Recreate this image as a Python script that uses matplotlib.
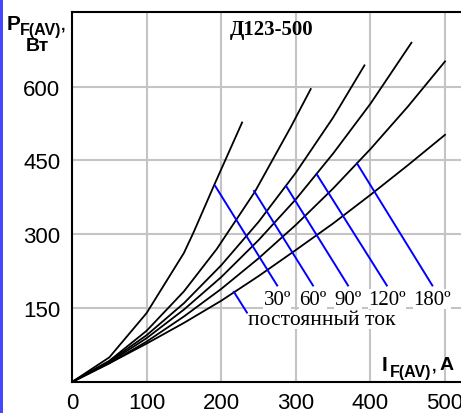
# -*- coding: utf-8 -*-

# Д123-500: average forward power loss vs average forward current

import matplotlib
matplotlib.use("Agg")
import matplotlib.pyplot as plt
from matplotlib.patches import Rectangle

# curves: current (A) and power (W)
i_30 = [0, 50, 100, 150, 163, 190, 228]
p_30 = [0, 50, 140, 262, 304, 398, 527]

i_60 = [0, 50, 100, 150, 194, 245, 293, 320]
p_60 = [0, 43, 104, 184, 270, 386, 517, 595]

i_90 = [0, 50, 100, 150, 200, 250, 300, 350, 392]
p_90 = [0, 42, 95, 160, 237, 325, 425, 537, 643]

i_120 = [0, 50, 100, 150, 200, 250, 300, 350, 400, 455]
p_120 = [0, 40, 89, 147, 213, 288, 371, 464, 565, 689]

i_180 = [0, 50, 100, 150, 200, 250, 300, 350, 400, 450, 500]
p_180 = [0, 38, 82, 133, 189, 251, 319, 393, 473, 559, 651]

i_dc = [0, 50, 100, 150, 200, 250, 300, 350, 400, 450, 500]
p_dc = [0, 38, 78, 120, 165, 215, 268, 322, 380, 440, 502]

# label leader lines (start on curve, end above the label)
lead_x = [[192, 275], [244, 323], [287, 370], [328, 422], [382, 483]]
lead_y = [[398, 196], [388, 196], [398, 196], [422, 196], [444, 196]]
lead_text = ["30º", "60º", "90º", "120º", "180º"]
dc_x = [217, 234.5]
dc_y = [183, 141]

x_ticks = [0, 100, 200, 300, 400, 500]
y_ticks = [150, 300, 450, 600]

fig = plt.figure(figsize=(4.61, 4.14), dpi=100)
ax = fig.add_axes([72 / 461, 31 / 414, 395.4 / 461, 370.3 / 414])
ax.set_xlim(0, 530)
ax.set_ylim(0, 752)

for x in x_ticks[1:]:
    ax.axvline(x, color="#c4c4c4", lw=1.5, zorder=0)
for y in y_ticks:
    ax.axhline(y, color="#c4c4c4", lw=1.5, zorder=0)

for xs, ys in [(i_30, p_30), (i_60, p_60), (i_90, p_90),
               (i_120, p_120), (i_180, p_180), (i_dc, p_dc)]:
    ax.plot(xs, ys, color="black", lw=1.3, zorder=3)

for xs, ys, t in zip(lead_x, lead_y, lead_text):
    ax.plot(xs, ys, color="#0000ff", lw=1.4, zorder=4)
    ax.text(xs[1], 159, t, ha="center", va="baseline", fontsize=15,
            family="Liberation Serif", zorder=5,
            bbox=dict(facecolor="white", edgecolor="none", pad=0.2))
ax.plot(dc_x, dc_y, color="#0000ff", lw=1.4, zorder=4)
ax.text(236, 118, "постоянный ток", ha="left", va="baseline", fontsize=15.5,
        family="Liberation Serif", zorder=5,
        bbox=dict(facecolor="white", edgecolor="none", pad=0.2))

ax.text(268, 707, "Д123-500", ha="center", va="baseline", fontsize=15,
        family="Liberation Serif", weight="bold")

ax.set_xticks(x_ticks)
ax.set_yticks(y_ticks)
ax.tick_params(length=0, labelsize=16)
ax.tick_params(axis="x", pad=7)
ax.tick_params(axis="y", pad=8.5)
for lab in ax.get_xticklabels() + ax.get_yticklabels():
    lab.set_family("Liberation Sans")
ax.spines["right"].set_visible(False)
for s in ["left", "bottom", "top"]:
    ax.spines[s].set_linewidth(1.5)

# axis names
fig.text(7 / 461, 1 - 30 / 414, "P", fontsize=15, weight="bold", family="Liberation Sans")
fig.text(20 / 461, 1 - 35 / 414, "F(AV)", fontsize=11.5, weight="bold", family="Liberation Sans")
fig.text(61 / 461, 1 - 30 / 414, ",", fontsize=11.5, weight="bold", family="Liberation Sans")
fig.text(37 / 461, 1 - 51 / 414, "Вт", fontsize=14, weight="bold", ha="center", family="Liberation Sans")

fig.text(382 / 461, 1 - 371 / 414, "I", fontsize=15, weight="bold", family="Liberation Sans")
fig.text(390 / 461, 1 - 377 / 414, "F(AV)", fontsize=11.5, weight="bold", family="Liberation Sans")
fig.text(432 / 461, 1 - 371 / 414, ",", fontsize=11.5, weight="bold", family="Liberation Sans")
fig.text(440 / 461, 1 - 370 / 414, "A", fontsize=14, weight="bold", family="Liberation Sans")

# blue strip at the left edge
fig.patches.append(Rectangle((0, 0), 2.5 / 461, 1, transform=fig.transFigure,
                             facecolor="#4646ff", edgecolor="none"))

fig.savefig("out.png", dpi=100)
